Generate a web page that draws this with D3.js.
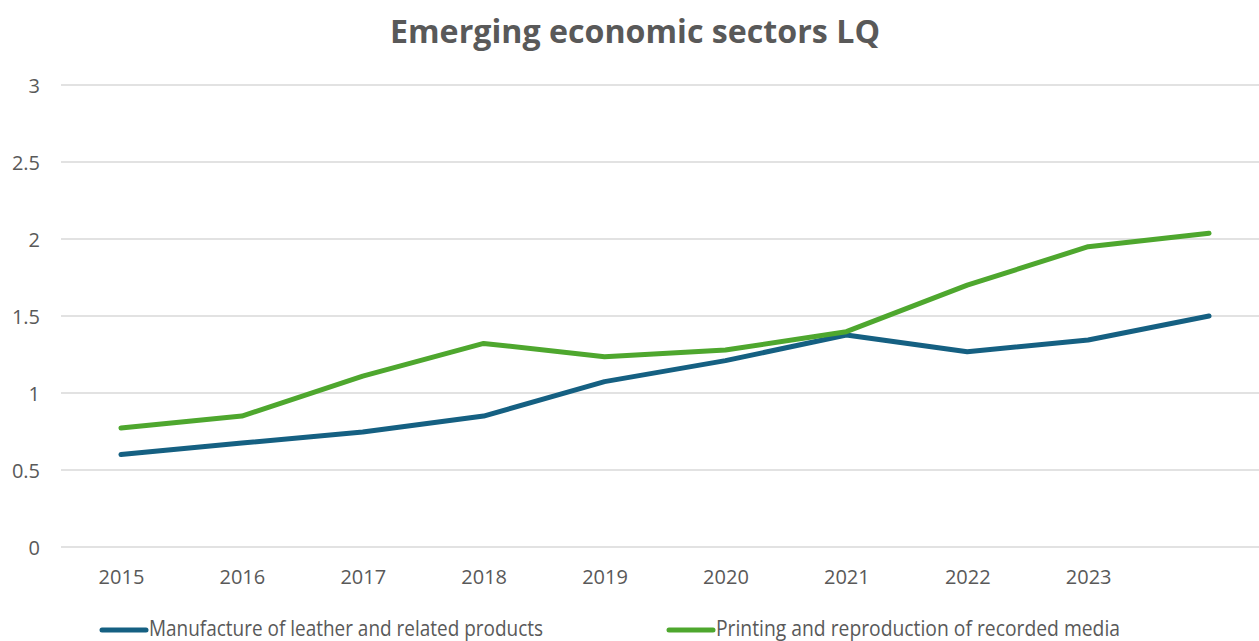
<!DOCTYPE html>
<html>
<head>
<meta charset="utf-8">
<script src="https://cdn.jsdelivr.net/npm/d3@7"></script>
<style>
  html, body { margin: 0; padding: 0; background: #fff; overflow: hidden; }
  svg { display: block; }
</style>
</head>
<body>
<svg id="chart" width="1259" height="641"></svg>
<script>
const categories = ["2015", "2016", "2017", "2018", "2019", "2020", "2021", "2022", "2023", ""];
const leather = [0.60, 0.675, 0.747, 0.85, 1.074, 1.21, 1.377, 1.268, 1.344, 1.50];
const printing = [0.773, 0.85, 1.11, 1.322, 1.236, 1.279, 1.398, 1.70, 1.95, 2.037];
const yTicks = [0, 0.5, 1, 1.5, 2, 2.5, 3];
const seriesNames = ["Manufacture of leather and related products", "Printing and reproduction of recorded media"];
const seriesColors = ["#156082", "#4EA72E"];
const titleText = "Emerging economic sectors LQ";

const svg = d3.select("#chart");
const textColor = "#595959";
const font = "'Open Sans', 'Liberation Sans', sans-serif";

const x = d3.scalePoint().domain(categories).range([60.5, 1269.5]).padding(0.5);
const y = d3.scaleLinear().domain([0, 3]).range([547, 85]);

// gridlines
svg.append("g").selectAll("line").data(yTicks).join("line")
  .attr("x1", 61).attr("x2", 1259)
  .attr("y1", d => y(d)).attr("y2", d => y(d))
  .attr("stroke", "#d9d9d9").attr("stroke-width", 1.5);

// y axis labels
const yAxis = d3.axisLeft(y).tickValues(yTicks).tickSize(0).tickPadding(0).tickFormat(d3.format("~g"));
const gy = svg.append("g").attr("transform", "translate(40,0)").call(yAxis);
gy.select(".domain").remove();
gy.selectAll("text").attr("font-family", font).attr("font-size", 20).attr("fill", textColor).attr("dy", "0.35em");

// x axis labels
const xAxis = d3.axisBottom(x).tickSize(0).tickPadding(0);
const gx = svg.append("g").attr("transform", "translate(0,577)").call(xAxis);
gx.select(".domain").remove();
gx.selectAll("text").attr("font-family", font).attr("font-size", 20).attr("fill", textColor).attr("dy", "0.35em");

// lines
const line = d3.line().x((d, i) => x(categories[i])).y(d => y(d));
[leather, printing].forEach((s, k) => {
  svg.append("path").datum(s)
    .attr("d", line)
    .attr("fill", "none")
    .attr("stroke", seriesColors[k])
    .attr("stroke-width", 5)
    .attr("stroke-linejoin", "round")
    .attr("stroke-linecap", "round");
});

// title
svg.append("text")
  .attr("x", 635).attr("y", 43)
  .attr("text-anchor", "middle")
  .attr("font-family", font).attr("font-weight", "bold").attr("font-size", 33)
  .attr("fill", textColor)
  .attr("textLength", 490).attr("lengthAdjust", "spacingAndGlyphs")
  .text(titleText);

// legend
const legendX = [100, 667];
const legendW = [394, 404];
seriesNames.forEach((name, k) => {
  const g = svg.append("g");
  g.append("line")
    .attr("x1", legendX[k] + 2).attr("x2", legendX[k] + 46)
    .attr("y1", 630).attr("y2", 630)
    .attr("stroke", seriesColors[k]).attr("stroke-width", 5).attr("stroke-linecap", "round");
  g.append("text")
    .attr("x", legendX[k] + 49).attr("y", 635.5)
    .attr("font-family", font).attr("font-size", 21)
    .attr("fill", textColor)
    .attr("textLength", legendW[k]).attr("lengthAdjust", "spacingAndGlyphs")
    .text(name);
});
</script>
</body>
</html>
